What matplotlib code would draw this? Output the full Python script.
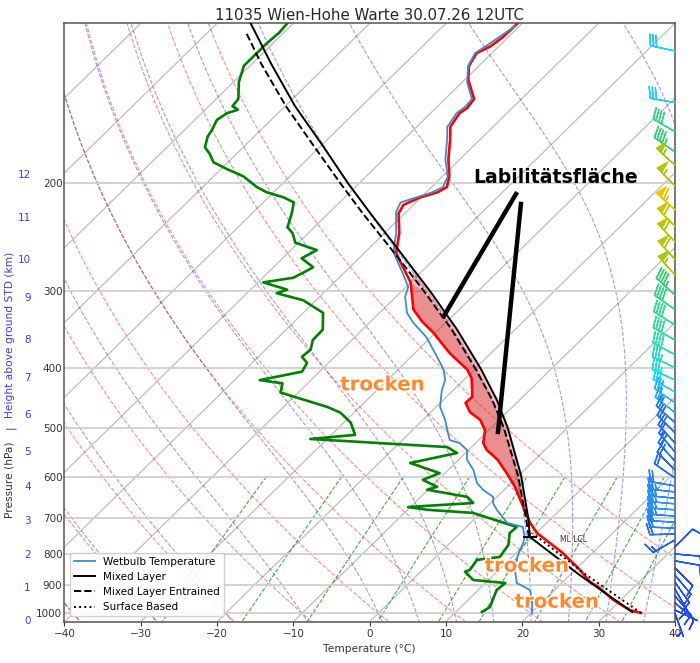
import numpy as np
import matplotlib
matplotlib.use("Agg")
import matplotlib.pyplot as plt
import matplotlib.patheffects as pe
from matplotlib.transforms import Affine2D, blended_transform_factory
from matplotlib.colors import LinearSegmentedColormap, Normalize
from matplotlib.ticker import FixedLocator, FixedFormatter, NullLocator

# sounding values (hPa, degC), surface -> top
temp_p = [999, 988, 951, 905, 890, 850, 798, 769, 741, 713, 672, 623, 592, 563, 543,
          529, 504, 485, 471, 455, 445, 415, 402, 378, 350, 336, 321, 302, 290, 260,
          254, 241, 224, 217, 211, 207, 203, 195, 183, 170, 162, 154, 151, 146, 136,
          129, 123, 120, 116, 110]
temp_t = [34.4, 32.5, 29.0, 25.2, 23.6, 20.6, 16.1, 13.1, 10.1, 7.8, 4.8, 1.0, -1.9, -4.9, -7.6,
          -9.0, -10.5, -12.5, -14.9, -16.7, -16.6, -19.2, -20.9, -25.4, -30.3, -33.2, -36.0, -38.4, -40.0, -45.8,
          -46.5, -48.1, -50.8, -51.3, -50.1, -48.5, -48.0, -49.1, -51.5, -53.9, -55.6, -56.2, -55.9, -56.2, -59.5,
          -61.3, -62.0, -61.1, -60.7, -60.6]

dewp_p = [995, 977, 917, 893, 883, 856, 850, 819, 810, 774, 741, 724, 687, 679, 672,
          662, 647, 630, 623, 607, 592, 570, 549, 537, 521, 513, 490, 472, 462, 438,
          423, 418, 405, 392, 383, 373, 360, 346, 325, 310, 302, 298, 290, 285, 280,
          274, 265, 257, 250, 241, 236, 224, 215, 211, 207, 203, 195, 190, 185, 179,
          175, 168, 164, 158, 154, 152, 150, 146, 137, 129, 123, 118, 114, 110]
dewp_t = [13.4, 13.8, 12.4, 12.6, 8.0, 5.8, 6.2, 5.8, 8.4, 7.9, 6.5, 6.6, -1.0, -7.4, -10.3,
          -2.3, -3.9, -10.1, -9.2, -12.0, -10.7, -15.9, -11.1, -13.2, -32.2, -26.9, -29.1, -31.8, -34.3, -42.3,
          -43.3, -46.7, -42.3, -42.8, -44.3, -44.1, -45.1, -45.2, -47.4, -51.7, -56.1, -55.2, -59.3, -56.0, -55.4,
          -54.8, -57.5, -56.6, -60.4, -62.1, -63.5, -64.8, -66.0, -68.0, -70.9, -72.9, -76.1, -79.1, -81.9, -83.6,
          -85.0, -86.1, -86.4, -87.1, -86.7, -85.7, -86.9, -87.1, -89.3, -90.8, -90.8, -90.8, -90.6, -90.8]

wetb_p = [999, 962, 917, 893, 850, 810, 789, 769, 752, 724, 713, 679, 662, 647, 630,
          614, 585, 563, 543, 529, 523, 509, 485, 462, 434, 418, 402, 383, 356, 337,
          325, 306, 295, 280, 260, 254, 241, 223, 215, 211, 207, 203, 195, 183, 170,
          162, 154, 150, 146, 137, 129, 123, 119, 115, 111]
wetb_t = [20.1, 18.8, 16.8, 14.1, 12.1, 10.7, 10.1, 9.6, 9.0, 7.4, 4.8, 1.7, 0.3, -0.5, -2.8,
          -4.5, -6.7, -8.9, -10.2, -12.1, -13.8, -15.0, -17.1, -19.5, -21.5, -22.4, -24.0, -26.6, -30.6, -34.3,
          -36.4, -38.8, -39.7, -42.3, -46.1, -46.9, -48.5, -51.3, -52.0, -50.6, -49.2, -48.5, -49.3, -51.9, -54.3,
          -56.0, -56.6, -56.3, -56.5, -59.4, -61.4, -62.2, -61.6, -61.1, -60.5]

# lifted parcels
ml_p = [995, 866, 752, 700, 598, 500, 450, 401, 346, 300, 277, 250, 224, 200, 173, 150, 128, 110]
ml_t = [33.1, 21.2, 9.7, 6.9, 0.35, -7.8, -13.0, -19.2, -27.6, -36.2, -41.2, -47.6, -54.5, -61.5,
        -70.1, -78.7, -87.5, -95.6]
ent_p = [752, 700, 598, 500, 450, 401, 346, 300, 277, 250, 224, 200, 173, 150, 128, 114]
ent_t = [9.55, 6.6, -0.05, -8.3, -13.6, -19.9, -28.3, -37.0, -42.0, -48.5, -55.5, -62.5,
         -71.3, -79.9, -88.8, -94.9]
sb_p = [999, 866, 741]
sb_t = [34.4, 22.1, 9.5]
lcl_p = 752
lcl_t = 9.7

# wind barbs (hPa, kt, deg)
wind_p = [122, 148, 165, 178, 187, 202, 221, 235, 249, 266, 282, 304, 321, 340, 360, 380, 399, 418,
          437, 455, 472, 490, 509, 529, 547, 566, 585, 603, 621, 635, 650, 664, 679, 695, 711, 727,
          743, 760, 780, 801, 822, 844, 867, 890, 913, 937, 962, 988, 1000]
wind_spd = [30, 30, 42, 44, 55, 57, 65, 60, 58, 58, 56, 45, 42, 40, 40, 38, 36, 33,
            31, 28, 27, 20, 18, 18, 17, 18, 18, 18, 22, 23, 23, 24, 24, 23, 22, 21,
            18, 14, 10, 12, 12, 10, 10, 9, 9, 8, 8, 7, 6]
wind_dir = [282, 280, 300, 305, 312, 315, 312, 315, 316, 317, 318, 312, 305, 302, 300, 298, 296, 295,
            300, 305, 308, 312, 315, 318, 320, 318, 315, 305, 280, 276, 275, 275, 274, 274, 273, 272,
            268, 240, 45, 95, 100, 135, 140, 145, 150, 140, 130, 115, 160]

# height scale on the left (km above ground)
height_km = list(range(13))
height_p = [1030, 911, 805, 708, 624, 547, 476, 415, 360, 308, 267, 228, 194]

p_ticks = [200, 300, 400, 500, 600, 700, 800, 900, 1000]

# constants for the background lines
RD, CP, LV, EPS = 287.04749, 1004.6662, 2.50084e6, 0.6219569


def dTdlnp(p, t):
    es = 6.112 * np.exp(17.67 * (t - 273.15) / (t - 29.65))
    rs = EPS * es / (p - es)
    return (RD * t + LV * rs) / (CP + LV * LV * rs * EPS / (RD * t * t))


def moist_path(t_start, p_path):
    t = t_start.copy()
    out = [t]
    for p1, p2 in zip(p_path[:-1], p_path[1:]):
        h = np.log(p2) - np.log(p1)
        pm = np.sqrt(p1 * p2)
        k1 = dTdlnp(p1, t)
        k2 = dTdlnp(pm, t + h / 2 * k1)
        k3 = dTdlnp(pm, t + h / 2 * k2)
        k4 = dTdlnp(p2, t + h * k3)
        t = t + h / 6 * (k1 + 2 * k2 + 2 * k3 + k4)
        out.append(t)
    return np.array(out).T


fig = plt.figure(figsize=(7, 6.63), dpi=100)
ax = fig.add_axes([0.0921, 0.0623, 0.8721, 0.9026])
ax.set_yscale("log")
ax.set_xlim(-40, 40)
ax.set_ylim(1032, 110)
ax.set_autoscale_on(False)

skew = ax.transScale + ax.transLimits + Affine2D().skew_deg(45, 0) + ax.transAxes

# isotherms and isobars
for t in range(-120, 50, 10):
    ax.plot([t, t], [1100, 100], transform=skew, color="#bdbdbd", lw=0.9, zorder=1)
ax.yaxis.grid(True, color="#cfcfcf", lw=1.3, zorder=1)

# dry adiabats
pp = np.geomspace(1060, 100, 200)
for t0 in range(-40, 51, 10):
    tt = (t0 + 273.15) * (pp / 1000.0) ** (RD / CP) - 273.15
    ax.plot(tt, pp, transform=skew, color="r", ls="--", lw=0.8, alpha=0.45, zorder=1)

# moist adiabats
t0s = np.array(list(range(-40, 0, 10)) + list(range(0, 51, 5)), dtype=float) + 273.15
p_up = np.geomspace(1000, 100, 300)
p_dn = np.geomspace(1000, 1060, 10)
up = moist_path(t0s, p_up)
dn = moist_path(t0s, p_dn)
p_all = np.concatenate([p_dn[::-1], p_up[1:]])
t_all = np.concatenate([dn[:, ::-1], up[:, 1:]], axis=1) - 273.15
for row in t_all:
    ax.plot(row, p_all, transform=skew, color="b", ls="--", lw=0.8, alpha=0.4, zorder=1)

# mixing ratio lines
pm = np.linspace(600, 1050, 50)
for w in [0.0004, 0.001, 0.002, 0.004, 0.007, 0.01, 0.016, 0.024, 0.032]:
    e = pm * w / (EPS + w)
    val = np.log(e / 6.112)
    td = 243.5 * val / (17.67 - val)
    ax.plot(td, pm, transform=skew, color="g", ls="--", lw=0.8, alpha=0.7, zorder=1)

# CAPE shading between environment and parcels
env_sel = [(p, t) for p, t in zip(temp_p, temp_t) if 290 <= p <= 713]
ml_sel = [(p, t) for p, t in zip(ml_p, ml_t) if 277 <= p <= 700]
ent_sel = [(p, t) for p, t in zip(ent_p, ent_t) if 300 <= p <= 700]
for sel in [ml_sel, ent_sel]:
    xs = [t for p, t in env_sel] + [t for p, t in sel[::-1]]
    ys = [p for p, t in env_sel] + [p for p, t in sel[::-1]]
    ax.fill(xs, ys, transform=skew, facecolor="tab:red", alpha=0.3, lw=0, zorder=2)

# profiles
ax.plot(temp_t, temp_p, transform=skew, color="red", lw=1.9, zorder=4)
ax.plot(dewp_t, dewp_p, transform=skew, color="green", lw=1.9, zorder=4)
ax.plot(wetb_t, wetb_p, transform=skew, color="#3d8bc8", lw=1.3, zorder=4,
        label="Wetbulb Temperature")
ax.plot(ml_t, ml_p, transform=skew, color="k", lw=1.4, zorder=5, label="Mixed Layer")
ax.plot(ent_t, ent_p, transform=skew, color="k", lw=1.4, ls="--", zorder=5,
        label="Mixed Layer Entrained")
ax.plot(sb_t, sb_p, transform=skew, color="k", lw=1.4, ls=":", zorder=5, label="Surface Based")
ax.plot([lcl_t], [lcl_p], transform=skew, marker="_", ms=10, mew=1.5, color="k", zorder=5)
ax.annotate("ML LCL", xy=(lcl_t, lcl_p), xycoords=skew, xytext=(30, -2),
            textcoords="offset pixels", fontsize=5.5, color="#333333", va="center")

# wind barbs at the right edge
spd = np.array(wind_spd, dtype=float)
rad = np.deg2rad(wind_dir)
u = -spd * np.sin(rad)
v = -spd * np.cos(rad)
wind_cmap = LinearSegmentedColormap.from_list(
    "wind", [(0.0, "#1e40f0"), (10 / 60, "#2060ff"), (19 / 60, "#2a90ff"), (26 / 60, "#22d8f0"),
             (34 / 60, "#30e0a0"), (42 / 60, "#40c860"), (51 / 60, "#a8c800"), (1.0, "#f0c400")])
btrans = blended_transform_factory(ax.transAxes, ax.transData)
ax.barbs(np.ones(len(wind_p)), wind_p, u, v, spd, cmap=wind_cmap, norm=Normalize(5, 65),
         length=6, linewidth=1.0, sizes=dict(height=0.45), transform=btrans,
         clip_on=False, zorder=6)

# axes styling
ax.yaxis.set_major_locator(FixedLocator(p_ticks))
ax.yaxis.set_major_formatter(FixedFormatter([str(p) for p in p_ticks]))
ax.yaxis.set_minor_locator(NullLocator())
ax.set_xticks(range(-40, 41, 10))
ax.tick_params(labelsize=7.5, colors="#333333")
ax.tick_params(axis="y", length=0, pad=1.5)
ax.tick_params(axis="x", length=3, pad=2.5)
for s in ax.spines.values():
    s.set_color("#555555")
    s.set_linewidth(1.1)
ax.set_xlabel("Temperature (°C)", fontsize=7.7, color="#333333", labelpad=3)
ax.set_title("11035 Wien-Hohe Warte 30.07.26 12UTC", fontsize=10.8, color="#262626", pad=2)

hb = blended_transform_factory(ax.transAxes, ax.transData)
for km, p in zip(height_km, height_p):
    ax.text(-0.055, p, str(km), transform=hb, ha="right", va="center",
            fontsize=7.5, color="#3a3aff")

fig.text(10 / 700, 1 - 518 / 663, "Pressure (hPa)", rotation=90, ha="center", va="bottom",
         fontsize=7.7, color="#333333")
fig.text(10 / 700, 1 - 427 / 663, "|", rotation=90, ha="center", va="center",
         fontsize=7.7, color="#333333")
fig.text(10 / 700, 1 - 418 / 663, "Height above ground STD (km)", rotation=90, ha="center",
         va="bottom", fontsize=7.7, color="#3a3aff")

ax.legend(loc="lower left", fontsize=7.5, framealpha=0.9)

# hand-drawn annotations
ax.text(0.8048, 0.7336, "Labilitätsfläche", transform=ax.transAxes, ha="center", va="baseline",
        fontsize=13.6, fontweight="bold", color="k", zorder=7)
ax.plot([0.7396, 0.6216], [0.7147, 0.5109], transform=ax.transAxes, color="k", lw=3.2, zorder=7)
ax.plot([0.7477, 0.7101], [0.6980, 0.3170], transform=ax.transAxes, color="k", lw=3.2, zorder=7)
glow = [pe.withStroke(linewidth=2, foreground="white")]
for x, y in [(0.5211, 0.3864), (0.7576, 0.0836), (0.8067, 0.0234)]:
    ax.text(x, y, "trocken", transform=ax.transAxes, ha="center", va="baseline",
            fontsize=14.2, fontweight="bold", color="#ff8a2e", path_effects=glow, zorder=7)

ax.set_xlim(-40, 40)
ax.set_ylim(1032, 110)
fig.savefig("out.png", dpi=100)
